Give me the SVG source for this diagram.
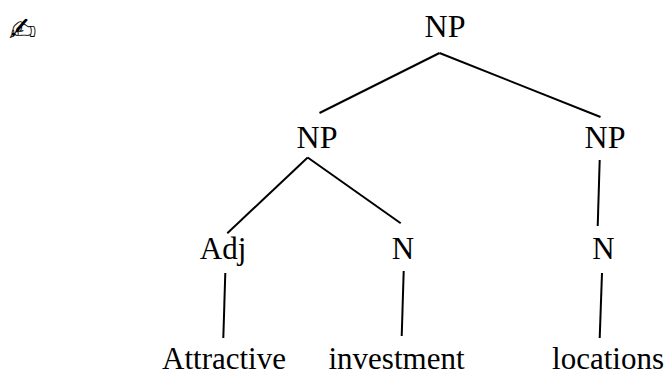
<svg xmlns="http://www.w3.org/2000/svg" width="665" height="372" viewBox="0 0 665 372">
<style>
text{font-family:"Liberation Serif","Times New Roman",serif;font-size:31px;fill:#000;text-anchor:middle}
.np{font-size:32px}
line{stroke:#000;stroke-width:2;fill:none}
</style>
<rect width="665" height="372" fill="#fff"/>
<g id="connectors">
<line x1="439.5" y1="53" x2="319.5" y2="113"/>
<line x1="439.5" y1="53" x2="600.5" y2="117"/>
<line x1="307.7" y1="157.5" x2="227.3" y2="233.3"/>
<line x1="307.7" y1="157.5" x2="400.7" y2="223.3"/>
<line x1="599.7" y1="160" x2="597.7" y2="226"/>
<line x1="225.3" y1="273" x2="223.3" y2="338"/>
<line x1="403.7" y1="271" x2="401.7" y2="336"/>
<line x1="602" y1="273" x2="599.7" y2="338"/>
</g>
<g id="mark"><text x="22.5" y="41" style="font-family:'DejaVu Sans',sans-serif;font-size:33px">✍</text></g>
<g id="n1"><text class="np" x="445" y="37">NP</text></g>
<g id="n2"><text class="np" x="317" y="148">NP</text></g>
<g id="n3"><text class="np" x="605" y="148">NP</text></g>
<g id="n4"><text x="223" y="259">Adj</text></g>
<g id="n5"><text x="403" y="259">N</text></g>
<g id="n6"><text x="603.5" y="259">N</text></g>
<g id="n7"><text x="224" y="369">Attractive</text></g>
<g id="n8"><text x="396.5" y="369">investment</text></g>
<g id="n9"><text x="608" y="369">locations</text></g>
</svg>
